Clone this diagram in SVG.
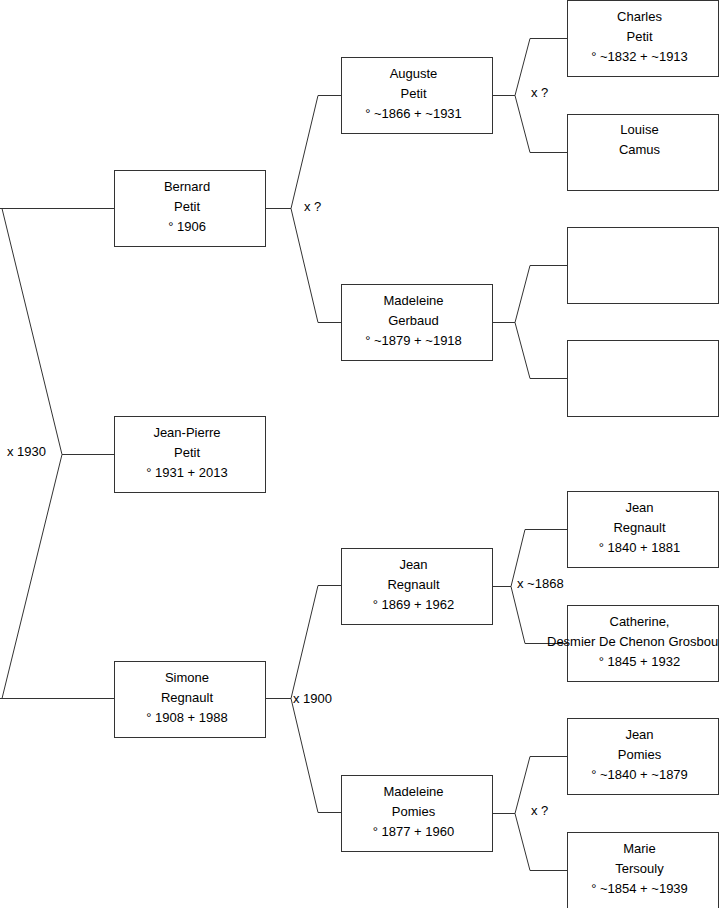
<svg xmlns="http://www.w3.org/2000/svg" width="719" height="908" viewBox="0 0 719 908">
<style>
.box{fill:#fff;stroke:#333;stroke-width:1}
.ln{fill:none;stroke:#333;stroke-width:1}
text{font-family:"Liberation Sans",Arial,sans-serif;font-size:13px;fill:#000}
.c{text-anchor:middle}
</style>
<rect width="719" height="908" fill="#fff"/>
<g id="connectors">
<path class="ln" d="M0,208.5H114.5M2,208.5L62,454.5L2,698.5M0,698.5H114.5M62,454.5H114.5"/>
<path class="ln" d="M265,208.5H291L318,95.5H341M291,208.5L318,322.5H341"/>
<path class="ln" d="M265,698.5H291L318,585.5H341M291,698.5L318,812.5H341"/>
<path class="ln" d="M492,95.5H515L530,38.5H567M515,95.5L530,152.5H567"/>
<path class="ln" d="M492,322.5H515L530,265.5H567M515,322.5L530,378.5H567"/>
<path class="ln" d="M492,586.5H511L525,529.5H567M511,586.5L525,643.5H567"/>
<path class="ln" d="M492,813.5H515L530,756.5H567M515,813.5L530,870.5H567"/>
<text x="7" y="456">x 1930</text>
<text x="304" y="211">x ?</text>
<text x="293" y="703">x 1900</text>
<text x="531" y="97">x ?</text>
<text x="517" y="588">x ~1868</text>
<text x="531" y="815">x ?</text>
</g>
<g id="bernard"><rect class="box" x="114.5" y="170.5" width="151" height="76"/><text class="c" x="187" y="191">Bernard</text><text class="c" x="187" y="211">Petit</text><text class="c" x="187" y="231">° 1906</text></g>
<g id="jeanpierre"><rect class="box" x="114.5" y="416.5" width="151" height="76"/><text class="c" x="187" y="437">Jean-Pierre</text><text class="c" x="187" y="457">Petit</text><text class="c" x="187" y="477">° 1931 + 2013</text></g>
<g id="simone"><rect class="box" x="114.5" y="661.5" width="151" height="76"/><text class="c" x="187" y="682">Simone</text><text class="c" x="187" y="702">Regnault</text><text class="c" x="187" y="722">° 1908 + 1988</text></g>
<g id="auguste"><rect class="box" x="341.5" y="57.5" width="151" height="76"/><text class="c" x="413.5" y="78">Auguste</text><text class="c" x="413.5" y="98">Petit</text><text class="c" x="413.5" y="118">° ~1866 + ~1931</text></g>
<g id="madeleine-gerbaud"><rect class="box" x="341.5" y="284.5" width="151" height="76"/><text class="c" x="413.5" y="305">Madeleine</text><text class="c" x="413.5" y="325">Gerbaud</text><text class="c" x="413.5" y="345">° ~1879 + ~1918</text></g>
<g id="jean-regnault"><rect class="box" x="341.5" y="548.5" width="151" height="76"/><text class="c" x="413.5" y="569">Jean</text><text class="c" x="413.5" y="589">Regnault</text><text class="c" x="413.5" y="609">° 1869 + 1962</text></g>
<g id="madeleine-pomies"><rect class="box" x="341.5" y="775.5" width="151" height="76"/><text class="c" x="413.5" y="796">Madeleine</text><text class="c" x="413.5" y="816">Pomies</text><text class="c" x="413.5" y="836">° 1877 + 1960</text></g>
<g id="charles"><rect class="box" x="567.5" y="0.5" width="151" height="76"/><text class="c" x="639.5" y="21">Charles</text><text class="c" x="639.5" y="41">Petit</text><text class="c" x="639.5" y="61">° ~1832 + ~1913</text></g>
<g id="louise"><rect class="box" x="567.5" y="114.5" width="151" height="76"/><text class="c" x="639.5" y="134">Louise</text><text class="c" x="639.5" y="154">Camus</text></g>
<g id="empty1"><rect class="box" x="567.5" y="227.5" width="151" height="76"/></g>
<g id="empty2"><rect class="box" x="567.5" y="340.5" width="151" height="76"/></g>
<g id="jean-regnault-sr"><rect class="box" x="567.5" y="491.5" width="151" height="76"/><text class="c" x="639.5" y="512">Jean</text><text class="c" x="639.5" y="532">Regnault</text><text class="c" x="639.5" y="552">° 1840 + 1881</text></g>
<g id="catherine"><rect class="box" x="567.5" y="605.5" width="151" height="76"/><text class="c" x="639.5" y="626">Catherine,</text><text x="547" y="646">Desmier De Chenon Grosbou</text><text class="c" x="639.5" y="666">° 1845 + 1932</text></g>
<g id="jean-pomies"><rect class="box" x="567.5" y="718.5" width="151" height="76"/><text class="c" x="639.5" y="739">Jean</text><text class="c" x="639.5" y="759">Pomies</text><text class="c" x="639.5" y="779">° ~1840 + ~1879</text></g>
<g id="marie"><rect class="box" x="567.5" y="832.5" width="151" height="76"/><text class="c" x="639.5" y="853">Marie</text><text class="c" x="639.5" y="873">Tersouly</text><text class="c" x="639.5" y="893">° ~1854 + ~1939</text></g>
</svg>
